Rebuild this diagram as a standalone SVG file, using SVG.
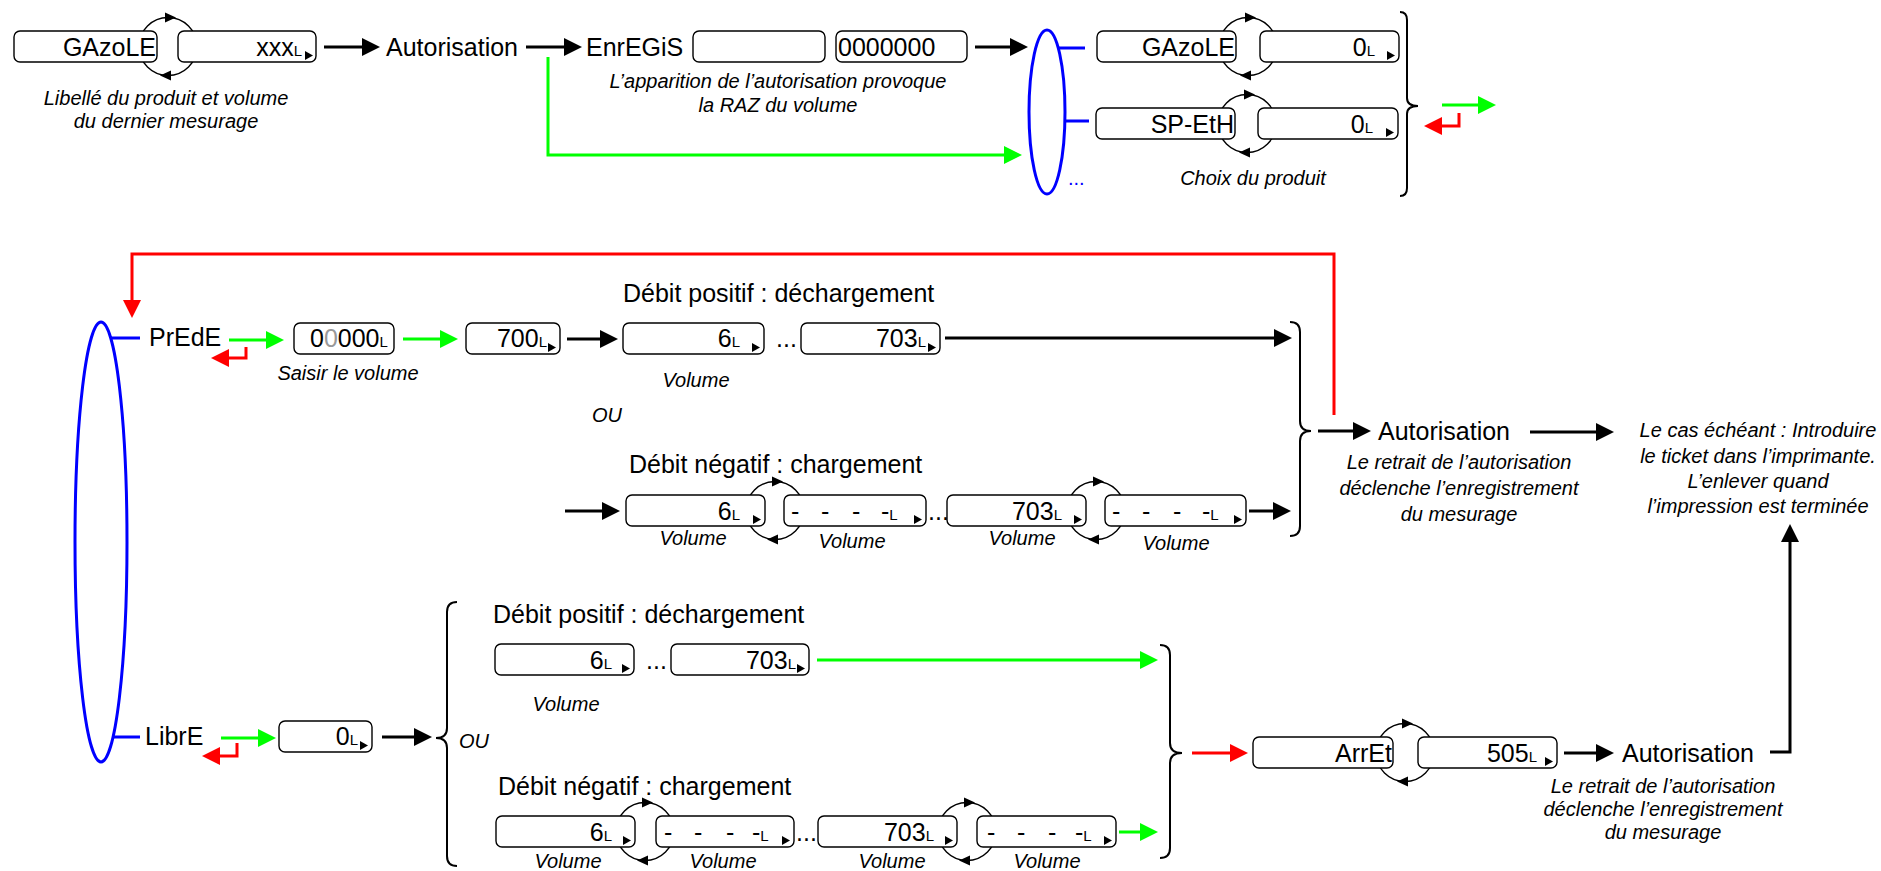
<svg xmlns="http://www.w3.org/2000/svg" xmlns:xlink="http://www.w3.org/1999/xlink" width="1881" height="871" viewBox="0 0 1881 871">
<style>
.bx{fill:#fff;stroke:#000;stroke-width:1.4}
.t{font-family:"Liberation Sans",Arial,sans-serif;font-size:25px;fill:#000}
.s{font-size:15px}
.c{font-family:"Liberation Sans",Arial,sans-serif;font-size:20px;font-style:italic;fill:#000}
.m{text-anchor:middle}
.e{text-anchor:end}
.k{fill:none;stroke:#000;stroke-width:3}
.g{fill:none;stroke:#00ff00;stroke-width:3}
.r{fill:none;stroke:#ff0000;stroke-width:3}
.b{fill:none;stroke:#0000ff;stroke-width:3}
.br{fill:none;stroke:#000;stroke-width:2}
.cy{fill:none;stroke:#000;stroke-width:1.4}
</style>
<defs>
<marker id="ak" viewBox="0 0 18 18" markerWidth="18" markerHeight="18" refX="8" refY="9" orient="auto" markerUnits="userSpaceOnUse"><path d="M0,0L18,9L0,18Z" fill="#000"/></marker>
<marker id="ag" viewBox="0 0 18 18" markerWidth="18" markerHeight="18" refX="8" refY="9" orient="auto" markerUnits="userSpaceOnUse"><path d="M0,0L18,9L0,18Z" fill="#00ff00"/></marker>
<marker id="ar" viewBox="0 0 18 18" markerWidth="18" markerHeight="18" refX="8" refY="9" orient="auto" markerUnits="userSpaceOnUse"><path d="M0,0L18,9L0,18Z" fill="#ff0000"/></marker>
<path id="tri" d="M0,0L8,4.5L0,9Z" fill="#000"/>
<g id="cyc"><circle r="29" class="cy"/><path d="M-3,-34L8,-29L-3,-24Z" fill="#000"/><path d="M3,24L-8,29L3,34Z" fill="#000"/></g>
</defs>
<rect width="1881" height="871" fill="#fff"/>

<g id="connectors">
<path class="k" d="M324,47H370" marker-end="url(#ak)"/>
<path class="k" d="M526,47H572" marker-end="url(#ak)"/>
<path class="k" d="M975,47H1018" marker-end="url(#ak)"/>
<path class="g" d="M548,57V155H1012" marker-end="url(#ag)"/>
<path class="g" d="M1442,105H1486" marker-end="url(#ag)"/>
<path class="r" d="M1459,113V126H1434" marker-end="url(#ar)"/>
<path class="b" d="M1059,48H1085M1065,121H1089"/>
<path class="br" d="M1400,12Q1407,12 1407,20V98Q1407,106 1418,106Q1407,106 1407,114V188Q1407,196 1400,196"/>
<path class="r" d="M1334,415V254H132V308" marker-end="url(#ar)"/>
<path class="b" d="M111,338H140M113,737H140"/>
<path class="g" d="M229,340H274" marker-end="url(#ag)"/>
<path class="r" d="M246,347V358H221" marker-end="url(#ar)"/>
<path class="g" d="M403,339H448" marker-end="url(#ag)"/>
<path class="k" d="M567,339H608" marker-end="url(#ak)"/>
<path class="k" d="M945,338H1282" marker-end="url(#ak)"/>
<path class="k" d="M565,511H610" marker-end="url(#ak)"/>
<path class="k" d="M1249,511H1281" marker-end="url(#ak)"/>
<path class="br" d="M1290,322Q1300,322 1300,332V421Q1300,431 1311,431Q1300,431 1300,441V526Q1300,536 1290,536"/>
<path class="k" d="M1318,431H1361" marker-end="url(#ak)"/>
<path class="k" d="M1530,432H1604" marker-end="url(#ak)"/>
<path class="k" d="M1770,752H1790V534" marker-end="url(#ak)"/>
<path class="g" d="M221,738H266" marker-end="url(#ag)"/>
<path class="r" d="M237,743V756H212" marker-end="url(#ar)"/>
<path class="k" d="M382,737H422" marker-end="url(#ak)"/>
<path class="br" d="M457,602Q447,602 447,612V728Q447,738 436,738Q447,738 447,748V856Q447,866 457,866"/>
<path class="g" d="M817,660H1148" marker-end="url(#ag)"/>
<path class="g" d="M1119,832H1148" marker-end="url(#ag)"/>
<path class="br" d="M1160,645Q1170,645 1170,655V743Q1170,753 1182,753Q1170,753 1170,763V848Q1170,858 1160,858"/>
<path class="r" d="M1192,753H1238" marker-end="url(#ar)"/>
<path class="k" d="M1564,753H1604" marker-end="url(#ak)"/>
</g>

<g id="n-start">
<use href="#cyc" x="168" y="46.5"/>
<rect class="bx" x="14" y="31" width="143" height="31" rx="6"/>
<text class="t e" x="156" y="55.5">GAzoLE</text>
<rect class="bx" x="178" y="31" width="138" height="31" rx="6"/>
<text class="t e" x="302" y="55.5">xxx<tspan class="s">L</tspan></text>
<use href="#tri" x="305" y="51"/>
<text class="c m" x="166" y="105">Libellé du produit et volume</text>
<text class="c m" x="166" y="128">du dernier mesurage</text>
</g>

<g id="n-autorisation1"><text class="t" x="386" y="56">Autorisation</text></g>

<g id="n-enregis">
<text class="t" x="586" y="56">EnrEGiS</text>
<rect class="bx" x="693" y="31" width="132" height="31" rx="6"/>
<rect class="bx" x="836" y="31" width="131" height="31" rx="6"/>
<text class="t" x="838" y="56">0000000</text>
<text class="c m" x="778" y="88">L’apparition de l’autorisation provoque</text>
<text class="c m" x="778" y="112">la RAZ du volume</text>
</g>

<g id="n-choix">
<ellipse class="b" cx="1047" cy="112" rx="18" ry="82"/>
<use href="#cyc" x="1248" y="46.5"/>
<rect class="bx" x="1097" y="31" width="139" height="31" rx="6"/>
<text class="t e" x="1235" y="55.5">GAzoLE</text>
<rect class="bx" x="1260" y="31" width="139" height="31" rx="6"/>
<text class="t e" x="1375" y="55.5">0<tspan class="s">L</tspan></text>
<use href="#tri" x="1387" y="51"/>
<use href="#cyc" x="1247" y="123.5"/>
<rect class="bx" x="1096" y="108" width="139" height="31" rx="6"/>
<text class="t e" x="1234" y="132.5">SP-EtH</text>
<rect class="bx" x="1258" y="108" width="140" height="31" rx="6"/>
<text class="t e" x="1373" y="132.5">0<tspan class="s">L</tspan></text>
<use href="#tri" x="1386" y="128"/>
<text class="t" x="1068" y="185" style="font-size:20px;fill:#0000ff">...</text>
<text class="c m" x="1253" y="185">Choix du produit</text>
</g>

<g id="n-mode">
<ellipse class="b" cx="101" cy="542" rx="26" ry="220"/>
<text class="t" x="149" y="346">PrEdE</text>
<text class="t" x="145" y="745">LibrE</text>
</g>

<g id="n-prede">
<rect class="bx" x="294" y="323" width="100" height="31" rx="6"/>
<text class="t" x="310" y="347">0<tspan fill="#999999">0</tspan>000<tspan class="s">L</tspan></text>
<text class="c m" x="348" y="380">Saisir le volume</text>
<rect class="bx" x="466" y="323" width="94" height="31" rx="6"/>
<text class="t e" x="547" y="347">700<tspan class="s">L</tspan></text>
<use href="#tri" x="548" y="343"/>
</g>

<g id="n-prede-pos">
<text class="t" x="623" y="302">Débit positif : déchargement</text>
<rect class="bx" x="623" y="323" width="141" height="31" rx="6"/>
<text class="t e" x="740" y="347">6<tspan class="s">L</tspan></text>
<use href="#tri" x="752" y="343"/>
<text class="t" x="776" y="347">...</text>
<rect class="bx" x="801" y="323" width="139" height="31" rx="6"/>
<text class="t e" x="926" y="347">703<tspan class="s">L</tspan></text>
<use href="#tri" x="928" y="343"/>
<text class="c m" x="696" y="387">Volume</text>
<text class="c" x="592" y="422">OU</text>
</g>

<g id="n-prede-neg">
<text class="t" x="629" y="473">Débit négatif : chargement</text>
<use href="#cyc" x="775" y="510.5"/>
<use href="#cyc" x="1096" y="510.5"/>
<rect class="bx" x="626" y="495" width="139" height="31" rx="6"/>
<text class="t e" x="740" y="519.5">6<tspan class="s">L</tspan></text>
<use href="#tri" x="753" y="515"/>
<rect class="bx" x="784" y="495" width="142" height="31" rx="6"/>
<text class="t" y="519.5"><tspan x="791">-</tspan><tspan x="821">-</tspan><tspan x="852">-</tspan><tspan x="881">-</tspan><tspan class="s">L</tspan></text>
<use href="#tri" x="914" y="515"/>
<text class="t" x="928" y="519.5">...</text>
<rect class="bx" x="947" y="495" width="139" height="31" rx="6"/>
<text class="t e" x="1062" y="519.5">703<tspan class="s">L</tspan></text>
<use href="#tri" x="1074" y="515"/>
<rect class="bx" x="1105" y="495" width="141" height="31" rx="6"/>
<text class="t" y="519.5"><tspan x="1112">-</tspan><tspan x="1142">-</tspan><tspan x="1173">-</tspan><tspan x="1202">-</tspan><tspan class="s">L</tspan></text>
<use href="#tri" x="1234" y="515"/>
<text class="c m" x="693" y="545">Volume</text>
<text class="c m" x="852" y="548">Volume</text>
<text class="c m" x="1022" y="545">Volume</text>
<text class="c m" x="1176" y="550">Volume</text>
</g>

<g id="n-autorisation2">
<text class="t" x="1378" y="440">Autorisation</text>
<text class="c m" x="1459" y="469">Le retrait de l’autorisation</text>
<text class="c m" x="1459" y="495">déclenche l’enregistrement</text>
<text class="c m" x="1459" y="521">du mesurage</text>
</g>

<g id="n-ticket">
<text class="c m" x="1758" y="437">Le cas échéant : Introduire</text>
<text class="c m" x="1758" y="463">le ticket dans l’imprimante.</text>
<text class="c m" x="1758" y="488">L’enlever quand</text>
<text class="c m" x="1758" y="513">l’impression est terminée</text>
</g>

<g id="n-libre">
<rect class="bx" x="279" y="721" width="93" height="31" rx="6"/>
<text class="t e" x="358" y="745">0<tspan class="s">L</tspan></text>
<use href="#tri" x="360" y="741"/>
<text class="c" x="459" y="748">OU</text>
</g>

<g id="n-libre-pos">
<text class="t" x="493" y="623">Débit positif : déchargement</text>
<rect class="bx" x="495" y="644" width="139" height="31" rx="6"/>
<text class="t e" x="612" y="668.5">6<tspan class="s">L</tspan></text>
<use href="#tri" x="622" y="664"/>
<text class="t" x="646" y="668.5">...</text>
<rect class="bx" x="671" y="644" width="138" height="31" rx="6"/>
<text class="t e" x="796" y="668.5">703<tspan class="s">L</tspan></text>
<use href="#tri" x="797" y="664"/>
<text class="c m" x="566" y="711">Volume</text>
</g>

<g id="n-libre-neg">
<text class="t" x="498" y="795">Débit négatif : chargement</text>
<use href="#cyc" x="645" y="831.5"/>
<use href="#cyc" x="967" y="831.5"/>
<rect class="bx" x="496" y="816" width="139" height="31" rx="6"/>
<text class="t e" x="612" y="840.5">6<tspan class="s">L</tspan></text>
<use href="#tri" x="623" y="836"/>
<rect class="bx" x="656" y="816" width="138" height="31" rx="6"/>
<text class="t" y="840.5"><tspan x="664">-</tspan><tspan x="694">-</tspan><tspan x="726">-</tspan><tspan x="752">-</tspan><tspan class="s">L</tspan></text>
<use href="#tri" x="782" y="836"/>
<text class="t" x="796" y="840.5">...</text>
<rect class="bx" x="818" y="816" width="139" height="31" rx="6"/>
<text class="t e" x="934" y="840.5">703<tspan class="s">L</tspan></text>
<use href="#tri" x="945" y="836"/>
<rect class="bx" x="977" y="816" width="139" height="31" rx="6"/>
<text class="t" y="840.5"><tspan x="987">-</tspan><tspan x="1017">-</tspan><tspan x="1048">-</tspan><tspan x="1075">-</tspan><tspan class="s">L</tspan></text>
<use href="#tri" x="1104" y="836"/>
<text class="c m" x="568" y="868">Volume</text>
<text class="c m" x="723" y="868">Volume</text>
<text class="c m" x="892" y="868">Volume</text>
<text class="c m" x="1047" y="868">Volume</text>
</g>

<g id="n-arret">
<use href="#cyc" x="1405" y="752.5"/>
<rect class="bx" x="1253" y="737" width="140" height="31" rx="6"/>
<text class="t e" x="1392" y="761.5">ArrEt</text>
<rect class="bx" x="1418" y="737" width="139" height="31" rx="6"/>
<text class="t e" x="1537" y="761.5">505<tspan class="s">L</tspan></text>
<use href="#tri" x="1545" y="757"/>
</g>

<g id="n-autorisation3">
<text class="t" x="1622" y="762">Autorisation</text>
<text class="c m" x="1663" y="793">Le retrait de l’autorisation</text>
<text class="c m" x="1663" y="816">déclenche l’enregistrement</text>
<text class="c m" x="1663" y="839">du mesurage</text>
</g>
</svg>
